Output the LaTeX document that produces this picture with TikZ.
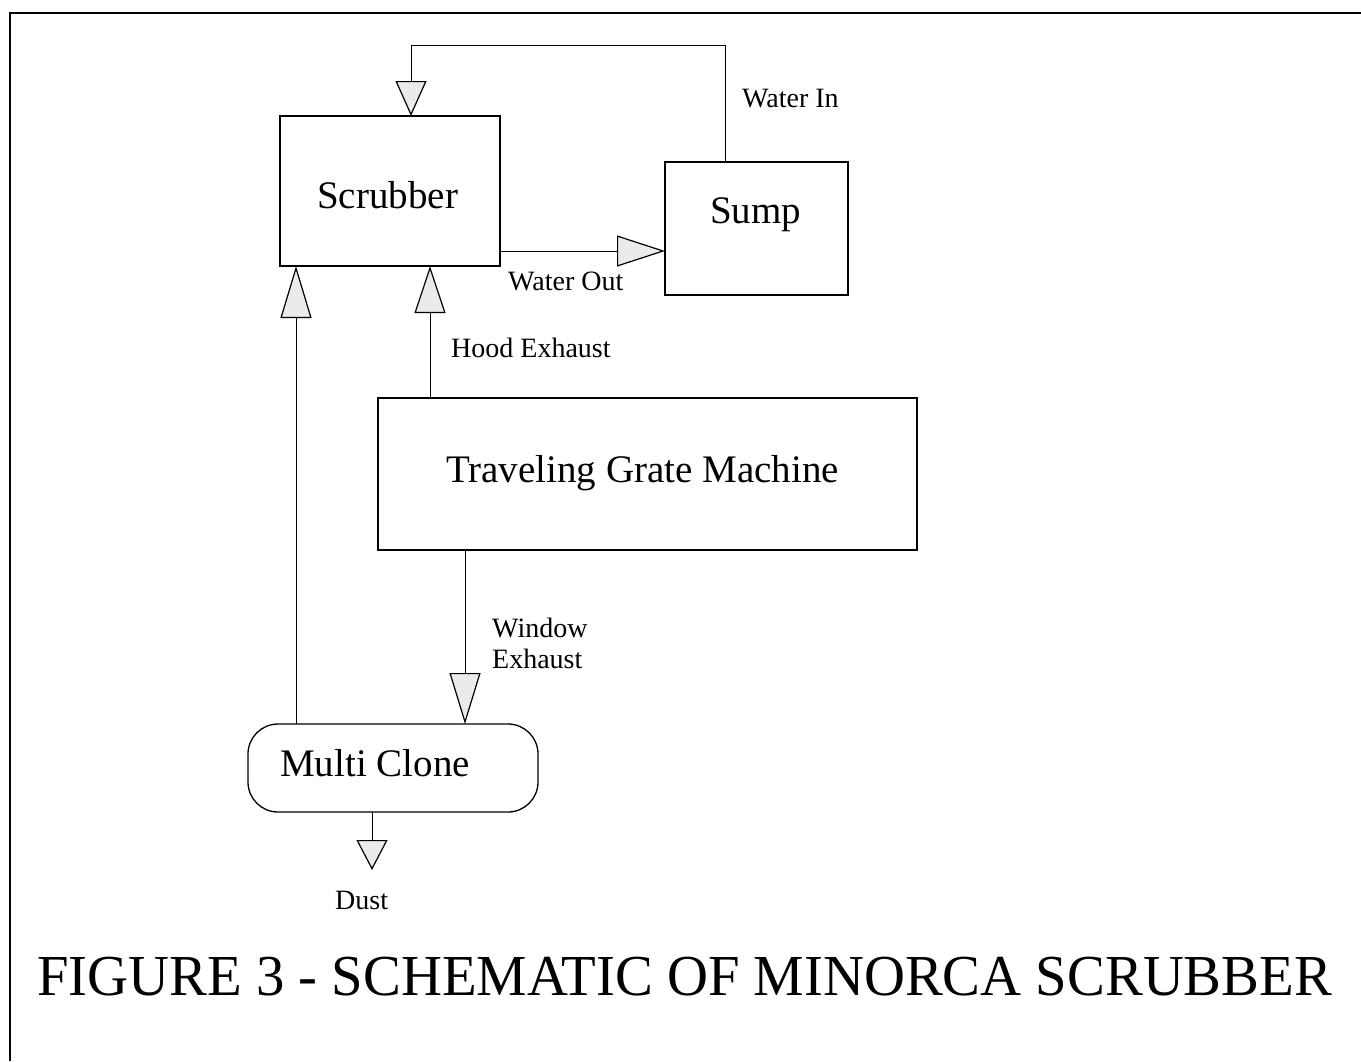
\documentclass[tikz,border=0pt]{standalone}
\usepackage{fontspec}
\setmainfont{Liberation Serif}
\usetikzlibrary{arrows.meta,calc}
\begin{document}
\begin{tikzpicture}[x=1pt,y=-1pt,
  box/.style={draw, line width=1.3pt, inner sep=0pt, outer sep=0pt},
  big/.style={font=\fontsize{39}{39}\selectfont, anchor=base west, inner sep=0pt},
  small/.style={font=\fontsize{28}{28}\selectfont, anchor=base west, inner sep=0pt},
  flow/.style={line width=1pt},
  tri/.style={-{Triangle[length=#1, width=31pt, fill=black!8, line width=1.2pt]}},
]
\useasboundingbox (0,0) rectangle (1361,1061);
% frame
\draw[line width=1.3pt] (10,1061) -- (10,13) -- (1361,13);
% boxes
\node[box, minimum width=220pt, minimum height=150pt] (scrub) at (390,191) {};
\node[box, minimum width=183pt, minimum height=133pt] (sump) at (756.5,228.5) {};
\node[box, minimum width=539pt, minimum height=152pt] (tgm) at (647.5,474) {};
\node[box, rounded corners=30pt, minimum width=290pt, minimum height=88pt] (mc) at (393,768) {};
% box texts
\node[big] (tScrub) at (317,208) {Scrubber};
\node[big] (tSump) at (710,223) {Sump};
\node[big] (tTgm) at (446,482) {Traveling Grate Machine};
\node[big] (tMc) at (280,776) {Multi Clone};
% labels
\node[small] (lWin) at (742,107) {Water In};
\node[small] (lWout) at (508,290) {Water Out};
\node[small] (lHood) at (451,357) {Hood Exhaust};
\node[small] (lWex1) at (492,637) {Window};
\node[small] (lWex2) at (492,668) {Exhaust};
\node[small] (lDust) at (335,909) {Dust};
% title
\node[anchor=base west, inner sep=0pt, font=\fontsize{58}{58}\selectfont] (title) at (37,995)
  {\resizebox{1295pt}{\height}{FIGURE 3 - SCHEMATIC OF MINORCA SCRUBBER}};
% connectors
\coordinate (wa) at (725,45);
\coordinate (wb) at (411,45);
\draw[flow, tri=35pt] (sump.north -| wa) -- (wa) -- (wb) -- (scrub.north -| wb);
\coordinate (wo) at (0,251);
\draw[flow, tri=48pt] (scrub.east |- wo) -- (sump.west |- wo);
\coordinate (hx) at (430,0);
\draw[flow, tri=47pt] (tgm.north -| hx) -- (scrub.south -| hx);
\coordinate (lx) at (296,0);
\draw[flow, tri=52pt] (mc.north -| lx) -- (scrub.south -| lx);
\coordinate (wx) at (465,0);
\draw[flow, tri=51pt] (tgm.south -| wx) -- (mc.north -| wx);
\coordinate (dtip) at (372,870);
\draw[flow, tri=30pt] (mc.south -| dtip) -- (dtip);
\end{tikzpicture}
\end{document}
